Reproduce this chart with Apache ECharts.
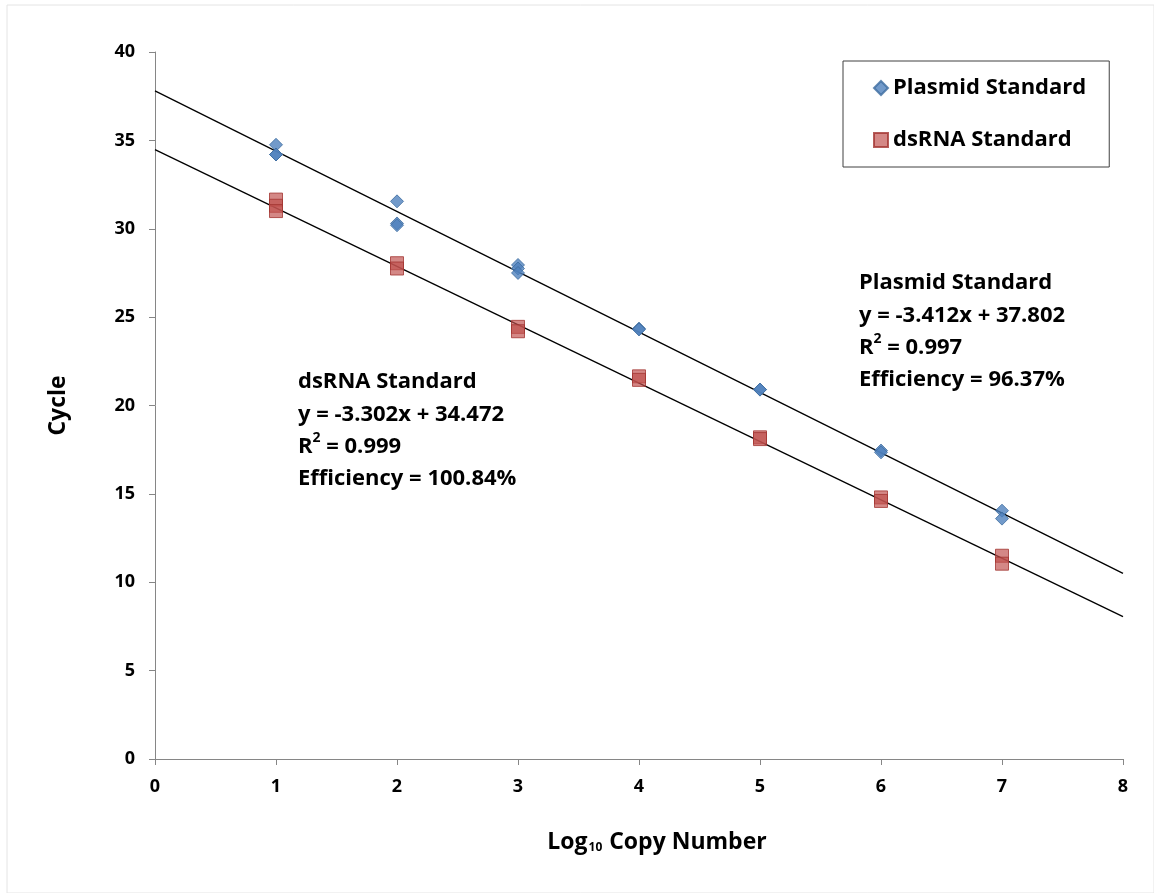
<!DOCTYPE html>
<html><head><meta charset="utf-8">
<script src="https://cdn.jsdelivr.net/npm/echarts@6/dist/echarts.min.js"></script>
<style>html,body{margin:0;padding:0;background:#fff}#c{width:1154px;height:893px}</style>
</head><body><div id="c"></div>
<script>
const plasmidX = [1,1,1, 2,2,2, 3,3,3, 4,4, 5,5, 6,6, 7,7];
const plasmidY = [34.75,34.2,34.2, 31.55,30.3,30.2, 27.95,27.75,27.5, 24.35,24.3, 20.9,20.9, 17.45,17.35, 14.05,13.6];
const dsrnaX = [1,1,1, 2,2, 3,3, 4,4, 5,5, 6,6, 7,7];
const dsrnaY = [31.65,31.3,31.0, 28.05,27.75, 24.45,24.2, 21.65,21.45, 18.2,18.1, 14.8,14.6, 11.5,11.05];
const trendSlope = [-3.412, -3.302];
const trendIntercept = [37.802, 34.472];
const trendRange = [0, 8];
const seriesNames = ['Plasmid Standard', 'dsRNA Standard'];
const plasmidLabel = ['Plasmid Standard', 'y = -3.412x + 37.802', 'R{sup|2} = 0.997', 'Efficiency = 96.37%'];
const dsrnaLabel = ['dsRNA Standard', 'y = -3.302x + 34.472', 'R{sup|2} = 0.999', 'Efficiency = 100.84%'];
const xTicks = [0,1,2,3,4,5,6,7,8];
const yTicks = [0,5,10,15,20,25,30,35,40];

const F = '"Open Sans", Lato, sans-serif';
const pts = (xs, ys) => xs.map((x,i)=>[x, ys[i]]);
const trend = k => trendRange.map(x => [x, trendSlope[k]*x + trendIntercept[k]]);
const annStyle = lines => ({
  text: lines.join('\n'), fontFamily:F, fontWeight:'bold', fontSize:22, lineHeight:32.3, fill:'#000',
  rich:{sup:{fontFamily:F, fontWeight:'bold', fontSize:14, lineHeight:32.3, fill:'#000', verticalAlign:'top', padding:[0,0,9,0]}}
});

const chart = echarts.init(document.getElementById('c'), null, {renderer:'canvas'});
chart.setOption({
  backgroundColor:'#fff',
  animation:false,
  grid:{left:155, right:31, top:52, bottom:134, containLabel:false},
  xAxis:{type:'value', min:xTicks[0], max:xTicks[xTicks.length-1], interval:1,
    axisLine:{lineStyle:{color:'#868686', width:1}},
    axisTick:{show:true, length:6, lineStyle:{color:'#868686'}},
    splitLine:{show:false},
    axisLabel:{color:'#000', fontFamily:F, fontWeight:'bold', fontSize:18, margin:19},
    name:'{b|Log}{s|10}{b| Copy Number}', nameLocation:'middle', nameGap:72,
    nameTextStyle:{padding:[0,0,0,36], rich:{b:{fontFamily:F,fontWeight:'bold',fontSize:23,color:'#000'},
      s:{fontFamily:F,fontWeight:'bold',fontSize:12,color:'#000',verticalAlign:'bottom',padding:[10,1,0,1]}}}
  },
  yAxis:{type:'value', min:yTicks[0], max:yTicks[yTicks.length-1], interval:5,
    axisLine:{show:true, lineStyle:{color:'#868686', width:1}},
    axisTick:{show:true, length:6, lineStyle:{color:'#868686'}},
    splitLine:{show:false},
    axisLabel:{color:'#000', fontFamily:F, fontWeight:'bold', fontSize:18, margin:20},
    name:'Cycle', nameLocation:'middle', nameGap:85, nameRotate:90,
    nameTextStyle:{fontFamily:F, fontWeight:'bold', fontSize:23, color:'#000'}
  },
  legend:{data:seriesNames, orient:'vertical', left:843, top:61,
    padding:[16,23,16,30], itemGap:30, itemWidth:14, itemHeight:14,
    borderColor:'#404040', borderWidth:1, backgroundColor:'#fff',
    textStyle:{fontFamily:F, fontWeight:'bold', fontSize:22, color:'#000'}
  },
  series:[
    {name:seriesNames[0], type:'scatter', symbol:'diamond', symbolSize:13, z:3,
      itemStyle:{color:'#4F81BD', borderColor:'#3C6C9F', borderWidth:1},
      data:pts(plasmidX, plasmidY)},
    {name:seriesNames[1], type:'scatter', symbol:'rect', symbolSize:13, z:3,
      itemStyle:{color:'rgba(192,80,77,0.85)', borderColor:'#A33431', borderWidth:1},
      data:pts(dsrnaX, dsrnaY)},
    {name:'trend1', type:'line', data:trend(0), symbol:'none', z:2,
      lineStyle:{color:'#000', width:1.3}},
    {name:'trend2', type:'line', data:trend(1), symbol:'none', z:2,
      lineStyle:{color:'#000', width:1.3}}
  ],
  graphic:[
    {type:'text', left:859, top:267, style:annStyle(plasmidLabel)},
    {type:'text', left:298, top:366, style:annStyle(dsrnaLabel)},
    {type:'rect', shape:{x:7, y:5, width:1147, height:888}, style:{fill:'none', stroke:'#e4e4e4', lineWidth:1}, silent:true}
  ]
});
</script></body></html>
